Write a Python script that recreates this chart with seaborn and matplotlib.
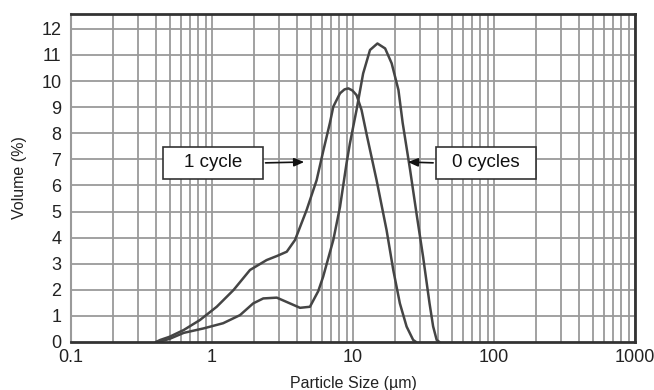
import numpy as np
import pandas as pd
import matplotlib
matplotlib.use("Agg")
import matplotlib.pyplot as plt
import seaborn as sns
from matplotlib.patches import Rectangle
from matplotlib.ticker import FixedLocator, NullFormatter

size_1cycle = [0.4, 0.43, 0.5, 0.63, 0.82, 1.08, 1.42, 1.86, 2.44, 2.9, 3.39, 3.88,
               4.69, 5.52, 6.14, 6.86, 7.25, 8.09, 8.7, 9.27, 9.9, 10.6, 11.5, 12.5,
               14.7, 17.3, 19.3, 21.5, 24.0, 26.7, 28.0]
vol_1cycle = [0, 0.08, 0.2, 0.46, 0.84, 1.35, 1.99, 2.76, 3.14, 3.3, 3.46, 3.91,
              5.06, 6.2, 7.3, 8.4, 9.02, 9.53, 9.68, 9.72, 9.64, 9.46, 8.89, 7.95,
              6.2, 4.29, 2.76, 1.48, 0.59, 0.08, 0]

size_0cycles = [0.4, 0.45, 0.5, 0.63, 0.87, 1.2, 1.58, 1.96, 2.31, 2.88, 3.57, 4.21,
                4.95, 5.67, 6.14, 7.25, 8.09, 9.0, 9.5, 10.6, 11.8, 13.2, 14.9, 16.9,
                18.8, 21.0, 22.5, 25.4, 28.2, 31.4, 34.9, 37.0, 39.2, 41.0]
vol_0cycles = [0, 0.05, 0.12, 0.35, 0.52, 0.72, 1.03, 1.48, 1.67, 1.7, 1.48, 1.31,
               1.35, 1.95, 2.5, 3.91, 5.18, 6.85, 7.6, 8.9, 10.29, 11.19, 11.44, 11.25,
               10.68, 9.66, 8.4, 6.6, 4.93, 3.27, 1.48, 0.6, 0.08, 0]

x_ticks = [0.1, 1, 10, 100, 1000]
x_tick_labels = ["0.1", "1", "10", "100", "1000"]
y_ticks = list(range(0, 13))

sns.set_style("white")
plt.rcParams['font.family'] = ['Liberation Sans', 'DejaVu Sans']

fig = plt.figure(figsize=(6.54, 3.9), dpi=100)
ax = fig.add_axes([71/654, 48/390, 564/654, 328/390])

grid_col = "#9a9a9a"
minor = [m * 10.0**e for e in range(-1, 3) for m in range(2, 10)]
for v in x_ticks + minor:
    ax.axvline(v, color=grid_col, lw=1.3, zorder=1)
for v in y_ticks[1:]:
    ax.axhline(v, color=grid_col, lw=1.3, zorder=1)

line_col = "#454545"
df1 = pd.DataFrame({"size": size_1cycle, "vol": vol_1cycle})
df0 = pd.DataFrame({"size": size_0cycles, "vol": vol_0cycles})
sns.lineplot(data=df1, x="size", y="vol", ax=ax, color=line_col, lw=1.8, zorder=3)
sns.lineplot(data=df0, x="size", y="vol", ax=ax, color=line_col, lw=1.8, zorder=3)
for l in ax.lines[-2:]:
    l.set_solid_joinstyle("round")

ax.set_xscale("log")
ax.set_xlim(0.1, 1000)
ax.set_ylim(0, 12.57)
ax.xaxis.set_major_locator(FixedLocator(x_ticks))
ax.set_xticklabels(x_tick_labels)
ax.xaxis.set_minor_formatter(NullFormatter())
ax.set_yticks(y_ticks)
ax.tick_params(axis="both", which="both", length=0, colors="#222222")
ax.tick_params(axis="y", pad=7, labelsize=13)
ax.tick_params(axis="x", pad=5, labelsize=13)
ax.set_xlabel("Particle Size (µm)", fontsize=11.5, color="#222222", labelpad=7)
ax.set_ylabel("Volume (%)", fontsize=11.5, color="#222222", labelpad=10)

for side in ["top", "bottom", "right"]:
    ax.spines[side].set_color("#333333")
    ax.spines[side].set_linewidth(2)
ax.spines["left"].set_color(grid_col)
ax.spines["left"].set_linewidth(1.5)
ax.spines["bottom"].set_zorder(4)

for x0, label in [(0.163, "1 cycle"), (0.647, "0 cycles")]:
    ax.add_patch(Rectangle((x0, 0.497), 0.177, 0.098, transform=ax.transAxes,
                           facecolor="white", edgecolor="#333333", lw=1.2, zorder=5))
    ax.text(x0 + 0.0885, 0.546, label, transform=ax.transAxes, ha="center", va="center",
            fontsize=13.5, color="#111111", zorder=6)

ax.annotate("", xy=(4.72, 6.9), xycoords="data", xytext=(0.340, 0.546),
            textcoords="axes fraction",
            arrowprops=dict(arrowstyle="-|>,head_length=0.6,head_width=0.25",
                            color="#111111", lw=1.2), zorder=6)
ax.annotate("", xy=(23.4, 6.9), xycoords="data", xytext=(0.647, 0.546),
            textcoords="axes fraction",
            arrowprops=dict(arrowstyle="-|>,head_length=0.6,head_width=0.25",
                            color="#111111", lw=1.2), zorder=6)

fig.savefig("out.png", dpi=100, facecolor="white")
